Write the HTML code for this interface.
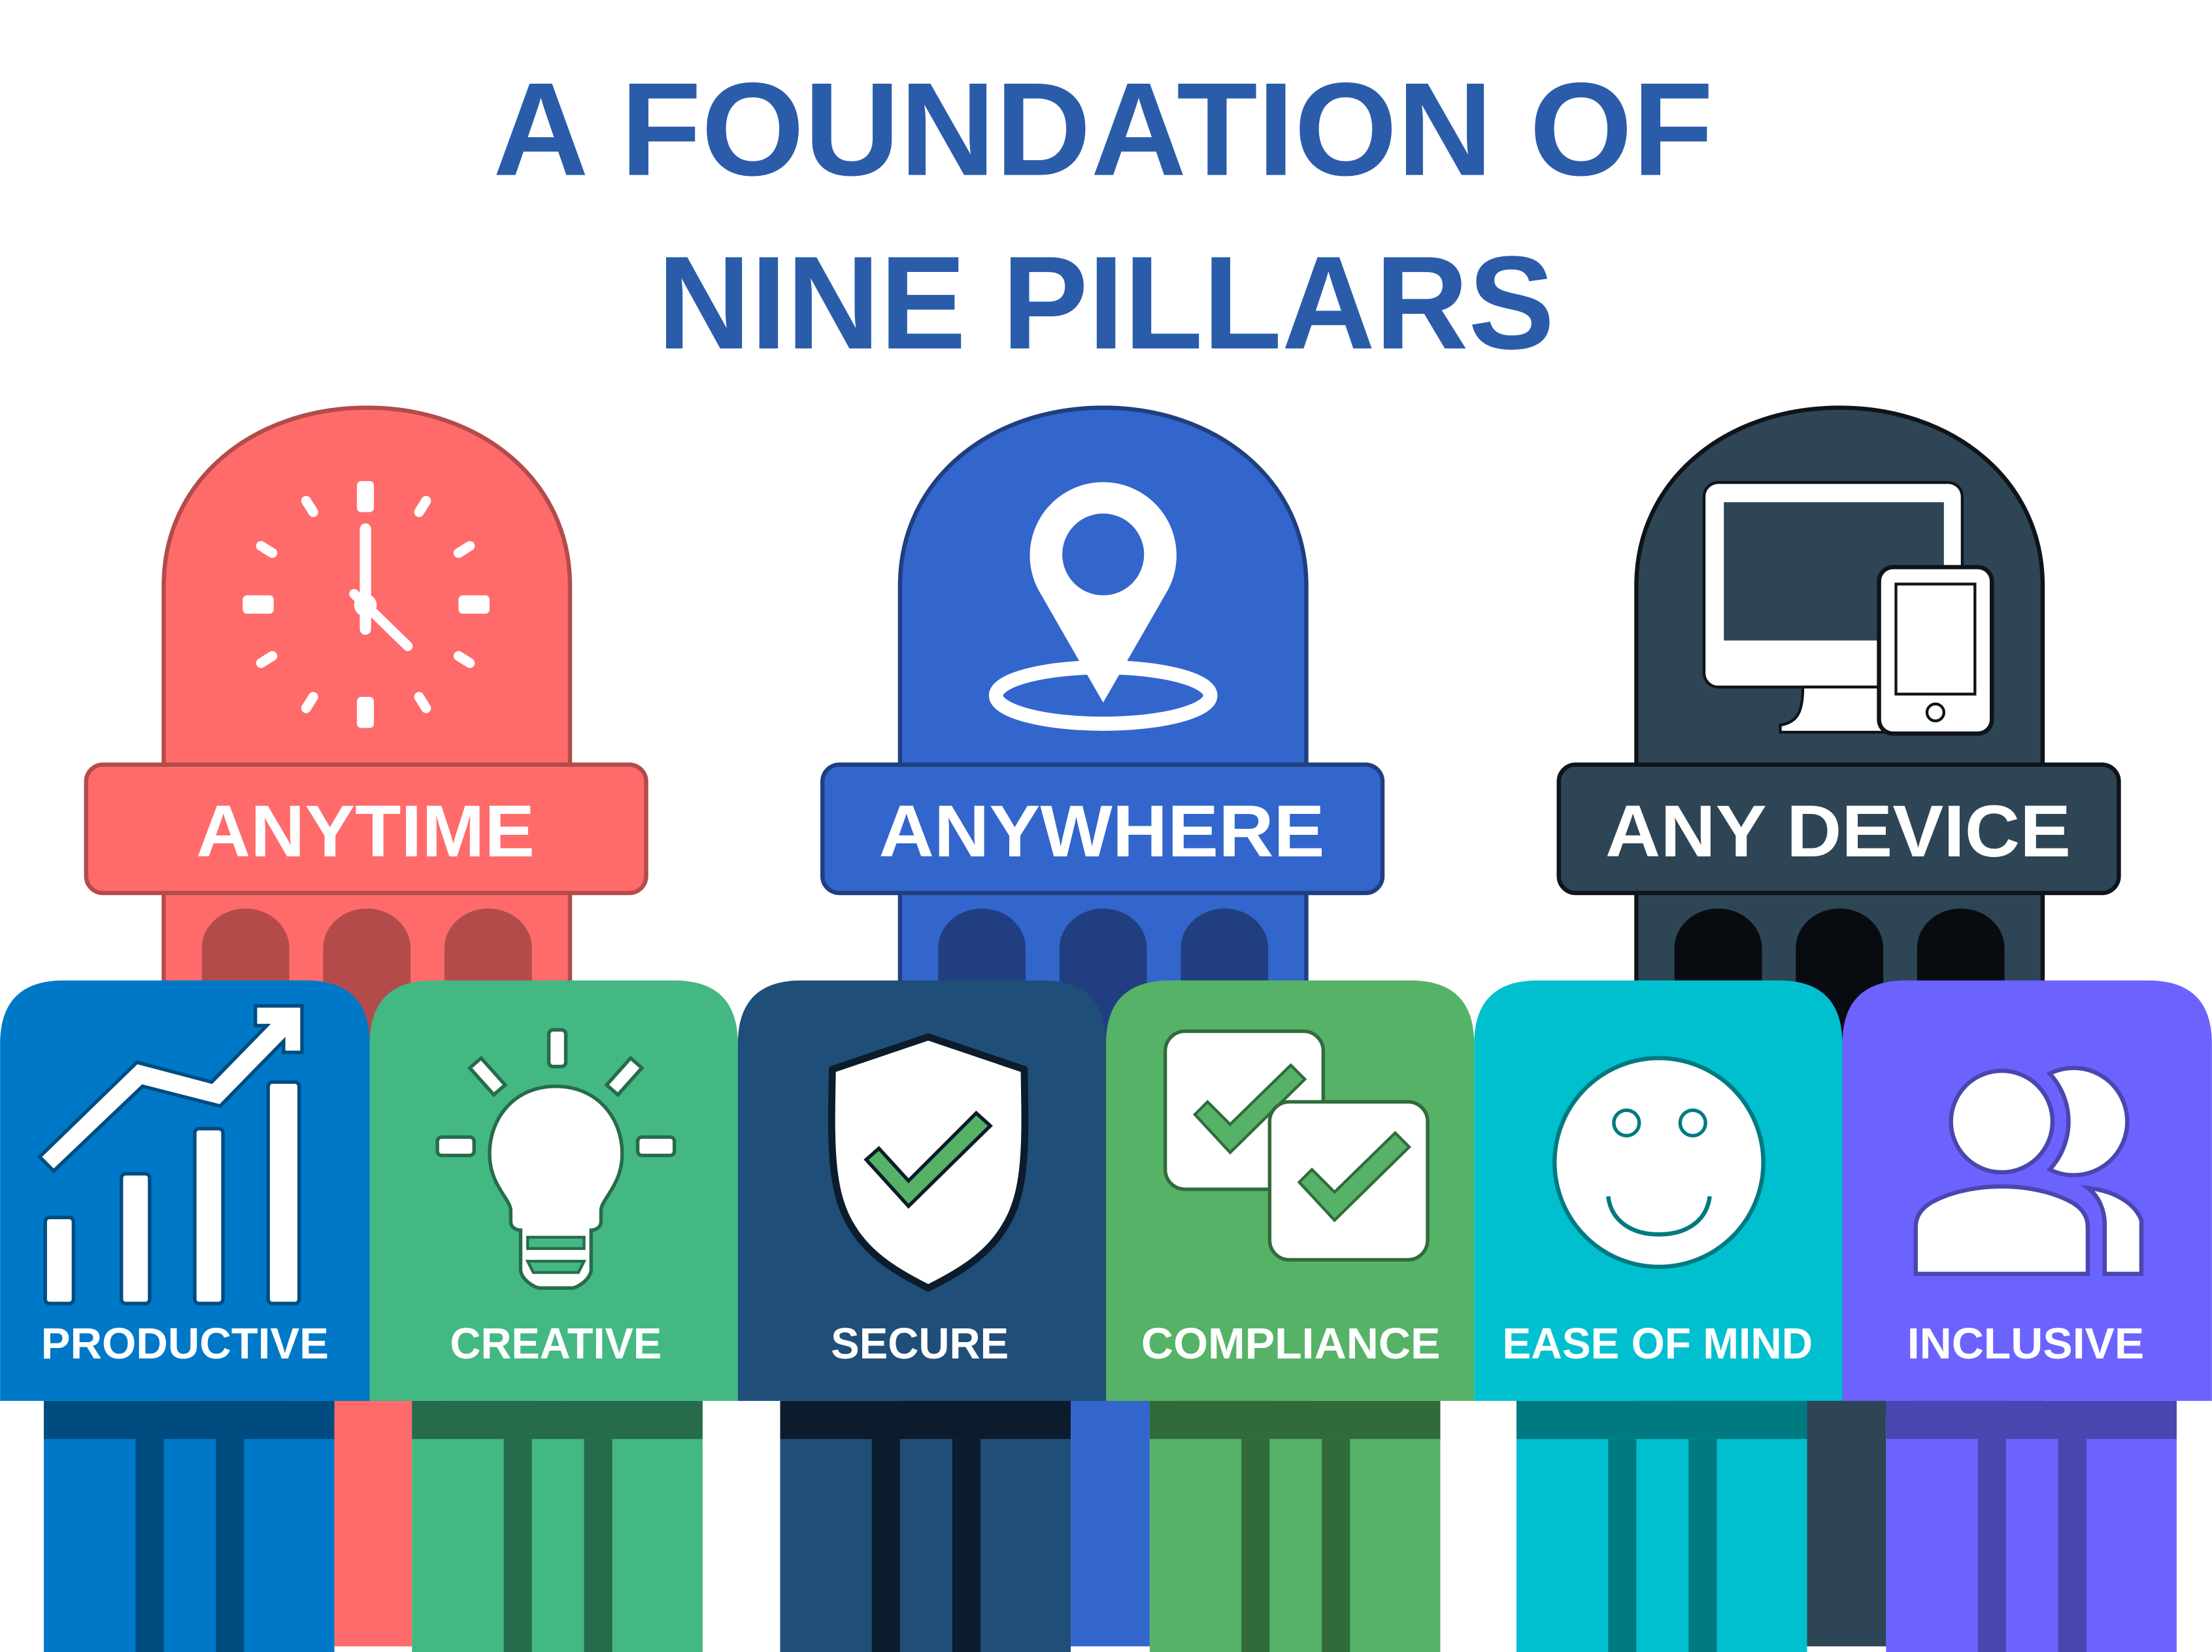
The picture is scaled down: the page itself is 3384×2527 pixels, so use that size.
<!DOCTYPE html>
<html><head><meta charset="utf-8"><style>html,body{margin:0;padding:0;background:#fff}svg{display:block}</style></head>
<body>
<svg width="3384" height="2527" viewBox="0 0 1568 1171" xmlns="http://www.w3.org/2000/svg" font-family="Liberation Sans, sans-serif" font-weight="bold">
<rect width="1568" height="1171" fill="#fff"/>
<text x="782" y="124" text-anchor="middle" font-size="94" fill="#2A5CAA" textLength="865" lengthAdjust="spacingAndGlyphs">A FOUNDATION OF</text>
<text x="784" y="247" text-anchor="middle" font-size="94" fill="#2A5CAA" textLength="636" lengthAdjust="spacingAndGlyphs">NINE PILLARS</text>

<!-- towers -->
<g>
<path d="M116 1000 V415 C116 340 180 289 260 289 C340 289 404 340 404 415 V1000 Z" fill="#FF6B6B" stroke="#B34B4B" stroke-width="3"/>
<g fill="#B34B4B"><path d="M143 1000 V672 a31 28 0 0 1 62 0 V1000Z"/><path d="M229 1000 V672 a31 28 0 0 1 62 0 V1000Z"/><path d="M315 1000 V672 a31 28 0 0 1 62 0 V1000Z"/></g>
<rect x="61" y="542" width="397" height="91" rx="12" fill="#FF6B6B" stroke="#B34B4B" stroke-width="3"/>
<text x="259" y="607" text-anchor="middle" font-size="52" fill="#fff" textLength="240" lengthAdjust="spacingAndGlyphs">ANYTIME</text>
<g fill="#fff"><rect x="253" y="341" width="12" height="22" rx="3"/><rect x="253" y="494" width="12" height="22" rx="3"/><rect x="172" y="422" width="22" height="13" rx="3"/><rect x="325" y="422" width="22" height="13" rx="3"/></g>
<g stroke="#fff" stroke-width="7" stroke-linecap="round"><line x1="217" y1="355" x2="222" y2="363"/><line x1="302" y1="355" x2="297" y2="363"/><line x1="185" y1="387" x2="193" y2="392"/><line x1="333" y1="387" x2="325" y2="392"/><line x1="185" y1="470" x2="193" y2="465"/><line x1="333" y1="470" x2="325" y2="465"/><line x1="217" y1="502" x2="222" y2="494"/><line x1="302" y1="502" x2="297" y2="494"/><line x1="259" y1="375" x2="259" y2="446" stroke-width="8"/><line x1="251" y1="421" x2="289" y2="458"/></g>
<circle cx="259" cy="429" r="8" fill="#fff"/>
</g>
<g>
<path d="M638 1000 V415 C638 340 702 289 782 289 C862 289 926 340 926 415 V1000 Z" fill="#3366CC" stroke="#1F3F80" stroke-width="3"/>
<g fill="#213F80"><path d="M665 1000 V672 a31 28 0 0 1 62 0 V1000Z"/><path d="M751 1000 V672 a31 28 0 0 1 62 0 V1000Z"/><path d="M837 1000 V672 a31 28 0 0 1 62 0 V1000Z"/></g>
<rect x="583" y="542" width="397" height="91" rx="12" fill="#3366CC" stroke="#1F3F80" stroke-width="3"/>
<text x="781" y="607" text-anchor="middle" font-size="52" fill="#fff" textLength="316" lengthAdjust="spacingAndGlyphs">ANYWHERE</text>
<ellipse cx="782" cy="493" rx="76" ry="20" fill="none" stroke="#fff" stroke-width="10"/>
<path d="M782 498 L736 418 A52 52 0 1 1 828 418 Z" fill="#fff"/>
<circle cx="782" cy="393" r="29" fill="#3366CC"/>
</g>
<g>
<path d="M1160 1000 V415 C1160 340 1224 289 1304 289 C1384 289 1448 340 1448 415 V1000 Z" fill="#2E4555" stroke="#0E1419" stroke-width="3"/>
<g fill="#080C10"><path d="M1187 1000 V672 a31 28 0 0 1 62 0 V1000Z"/><path d="M1273 1000 V672 a31 28 0 0 1 62 0 V1000Z"/><path d="M1359 1000 V672 a31 28 0 0 1 62 0 V1000Z"/></g>
<rect x="1105" y="542" width="397" height="91" rx="12" fill="#2E4555" stroke="#0E1419" stroke-width="3"/>
<text x="1303" y="607" text-anchor="middle" font-size="52" fill="#fff" textLength="330" lengthAdjust="spacingAndGlyphs">ANY DEVICE</text>
<rect x="1208" y="342" width="183" height="145" rx="10" fill="#fff" stroke="#0E1419" stroke-width="2"/>
<rect x="1222" y="356" width="156" height="98" fill="#2E4555"/>
<path d="M1278 487 C1278 505 1274 512 1262 514 V519 H1336 V487 Z" fill="#fff" stroke="#0E1419" stroke-width="2"/>
<rect x="1332" y="402" width="80" height="118" rx="10" fill="#fff" stroke="#0E1419" stroke-width="3"/>
<rect x="1344" y="414" width="56" height="78" fill="none" stroke="#0E1419" stroke-width="2"/>
<circle cx="1372" cy="505" r="6" fill="none" stroke="#0E1419" stroke-width="2"/>
</g>

<!-- lower pillars -->
<g>
<rect x="31" y="993" width="206" height="178" fill="#0078C8"/><rect x="31" y="993" width="206" height="27" fill="#004C80"/><rect x="96" y="1020" width="20" height="151" fill="#004C80"/><rect x="153" y="1020" width="20" height="151" fill="#004C80"/>
<rect x="237" y="993" width="55" height="174" fill="#FF6B6B"/>
<rect x="292" y="993" width="206" height="178" fill="#43B883"/><rect x="292" y="993" width="206" height="27" fill="#266B4C"/><rect x="357" y="1020" width="20" height="151" fill="#266B4C"/><rect x="414" y="1020" width="20" height="151" fill="#266B4C"/>
<rect x="553" y="993" width="206" height="178" fill="#1F4E78"/><rect x="553" y="993" width="206" height="27" fill="#0C1C2C"/><rect x="618" y="1020" width="20" height="151" fill="#0C1C2C"/><rect x="675" y="1020" width="20" height="151" fill="#0C1C2C"/>
<rect x="759" y="993" width="56" height="174" fill="#3366CC"/>
<rect x="815" y="993" width="206" height="178" fill="#56B266"/><rect x="815" y="993" width="206" height="27" fill="#316B3C"/><rect x="880" y="1020" width="20" height="151" fill="#316B3C"/><rect x="937" y="1020" width="20" height="151" fill="#316B3C"/>
<rect x="1075" y="993" width="206" height="178" fill="#00C0D0"/><rect x="1075" y="993" width="206" height="27" fill="#007A80"/><rect x="1140" y="1020" width="20" height="151" fill="#007A80"/><rect x="1197" y="1020" width="20" height="151" fill="#007A80"/>
<rect x="1281" y="993" width="56" height="174" fill="#2E4555"/>
<rect x="1337" y="993" width="206" height="178" fill="#6C63FF"/><rect x="1337" y="993" width="206" height="27" fill="#4A46B0"/><rect x="1402" y="1020" width="20" height="151" fill="#4A46B0"/><rect x="1459" y="1020" width="20" height="151" fill="#4A46B0"/>
</g>

<!-- cards -->
<path d="M0 993 V740 Q0 695 45 695 H217 Q262 695 262 740 V993Z" fill="#0078C8"/>
<path d="M262 993 V740 Q262 695 307 695 H478 Q523 695 523 740 V993Z" fill="#43B883"/>
<path d="M523 993 V740 Q523 695 568 695 H739 Q784 695 784 740 V993Z" fill="#1F4E78"/>
<path d="M784 993 V740 Q784 695 829 695 H1000 Q1045 695 1045 740 V993Z" fill="#56B266"/>
<path d="M1045 993 V740 Q1045 695 1090 695 H1261 Q1306 695 1306 740 V993Z" fill="#00C0D0"/>
<path d="M1306 993 V740 Q1306 695 1351 695 H1523 Q1568 695 1568 740 V993Z" fill="#6C63FF"/>

<g font-size="31" fill="#fff" text-anchor="middle">
<text x="131" y="963" textLength="204" lengthAdjust="spacingAndGlyphs">PRODUCTIVE</text>
<text x="394" y="963" textLength="150" lengthAdjust="spacingAndGlyphs">CREATIVE</text>
<text x="652" y="963" textLength="126" lengthAdjust="spacingAndGlyphs">SECURE</text>
<text x="915" y="963" textLength="212" lengthAdjust="spacingAndGlyphs">COMPLIANCE</text>
<text x="1175" y="963" textLength="220" lengthAdjust="spacingAndGlyphs">EASE OF MIND</text>
<text x="1436" y="963" textLength="168" lengthAdjust="spacingAndGlyphs">INCLUSIVE</text>
</g>

<!-- productive icon -->
<g fill="#fff" stroke="#004C80" stroke-width="2.5">
<rect x="32" y="863" width="20" height="61" rx="3"/><rect x="86" y="832" width="20" height="92" rx="3"/><rect x="138" y="800" width="20" height="124" rx="3"/><rect x="190" y="767" width="22" height="157" rx="3"/>
<path d="M28 820 L97 753 L150 767 L189 727 L181 727 L181 713 L214 713 L214 746 L201 746 L201 738 L156 784 L101 770 L38 830 Z"/>
</g>
<!-- creative icon -->
<g fill="#fff" stroke="#266B4C" stroke-width="2.5">
<rect x="389" y="730" width="12" height="26" rx="3"/>
<rect x="310" y="806" width="26" height="13" rx="3"/><rect x="452" y="806" width="26" height="13" rx="3"/>
<path d="M333 757 l8 -7 l17 19 l-8 7z"/><path d="M455 757 l-8 -7 l-17 19 l8 7z"/>
<path d="M394 770 C365 770 347 792 347 818 C347 840 362 850 362 858 V866 C362 870 366 872 369 872 V900 C369 906 378 913 383 913 H405 C410 913 419 906 419 900 V872 C422 872 426 870 426 866 V858 C426 850 441 840 441 818 C441 792 423 770 394 770Z"/>
<rect x="374" y="877" width="40" height="8" fill="#43B883" stroke-width="2"/>
<path d="M374 894 H414 L410 902 H378Z" fill="#43B883" stroke-width="2"/>
</g>
<!-- secure icon -->
<path d="M658 735 L726 758 C727 810 728 845 712 870 C700 890 680 902 658 913 C636 902 616 890 604 870 C588 845 589 810 590 758 Z" fill="#fff" stroke="#0C1C2C" stroke-width="5" stroke-linejoin="round"/>
<path d="M614 822 L623 814 L644 837 L692 789 L702 798 L644 855 Z" fill="#56B266" stroke="#0C1C2C" stroke-width="2.5"/>
<!-- compliance icon -->
<rect x="826" y="731" width="112" height="112" rx="14" fill="#fff" stroke="#316B3C" stroke-width="2.5"/>
<path d="M847 790 l9 -9 l16 16 l43 -42 l10 10 l-53 52z" fill="#56B266" stroke="#316B3C" stroke-width="2"/>
<rect x="900" y="781" width="112" height="112" rx="14" fill="#fff" stroke="#316B3C" stroke-width="2.5"/>
<path d="M921 838 l9 -9 l16 16 l43 -42 l10 10 l-53 52z" fill="#56B266" stroke="#316B3C" stroke-width="2"/>
<!-- ease icon -->
<circle cx="1176" cy="824" r="74" fill="#fff" stroke="#007A80" stroke-width="3"/>
<ellipse cx="1153" cy="796" rx="9" ry="9" fill="none" stroke="#007A80" stroke-width="2.5"/>
<ellipse cx="1200" cy="796" rx="9" ry="9" fill="none" stroke="#007A80" stroke-width="2.5"/>
<path d="M1140 848 C1142 865 1156 875 1176 875 C1196 875 1210 865 1212 848" fill="none" stroke="#007A80" stroke-width="3"/>
<!-- inclusive icon -->
<g fill="#fff" stroke="#4A46B0" stroke-width="3">
<path d="M1453 761 A38 38 0 1 1 1453 829 A50 50 0 0 0 1453 761Z"/>
<circle cx="1419" cy="795" r="36"/>
<path d="M1480 842 C1505 845 1515 857 1518 865 V903 H1492 V868 C1492 858 1488 848 1480 842Z"/>
<path d="M1358 903 V870 C1358 862 1362 857 1368 853 C1380 846 1398 841 1419 841 C1440 841 1458 846 1470 853 C1476 857 1480 862 1480 870 V903 Z"/>
</g>
</svg>
</body></html>
